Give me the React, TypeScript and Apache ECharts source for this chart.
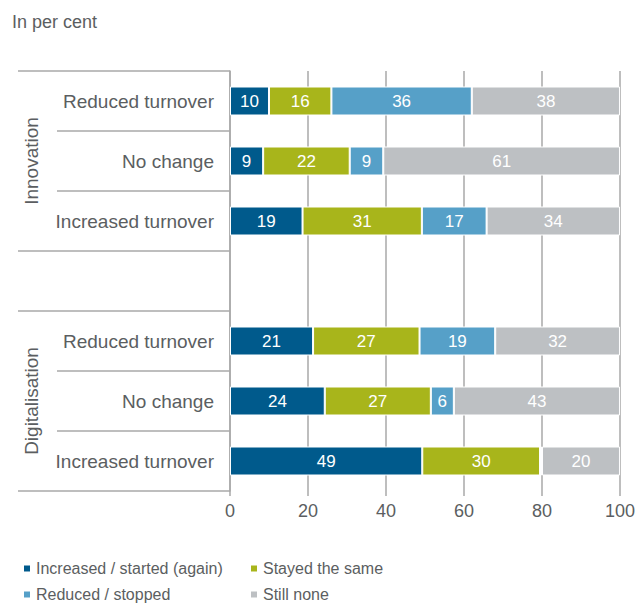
import React, { useEffect, useRef } from "react";
import * as echarts from "echarts";

const groups = ["Innovation", "Digitalisation"];
const rowLabels = ["Reduced turnover", "No change", "Increased turnover"];
const seriesNames = [
  "Increased / started (again)",
  "Stayed the same",
  "Reduced / stopped",
  "Still none",
];
// rows per group: Reduced turnover, No change, Increased turnover (Innovation then Digitalisation)
const increasedStarted = [10, 8.5, 18.6, 21.3, 24.3, 49.3];
const stayedSame = [16, 22.2, 30.6, 27.3, 27.2, 30.2];
const reducedStopped = [36, 8.6, 16.6, 19.4, 5.9, 0.5];
const stillNone = [38, 60.7, 34.2, 32.0, 42.6, 20.0];
const xTicks = { min: 0, max: 100, interval: 20 };

const colors = ["#005a8c", "#a8b51b", "#56a0c8", "#bdc0c3"];
const textColor = "#5b5e61";
const lineColor = "#a8a8a8";
const fontFamily = '"Liberation Sans", Arial, sans-serif';

const SPACER = "__spacer__";

function buildCategories(): string[] {
  const cats: string[] = [];
  groups.forEach((g, gi) => {
    if (gi > 0) cats.push(SPACER);
    rowLabels.forEach((r) => cats.push(g + "|" + r));
  });
  return cats;
}

function withSpacer(vals: number[]): (number | null)[] {
  const out: (number | null)[] = [];
  groups.forEach((_, gi) => {
    if (gi > 0) out.push(null);
    for (let i = 0; i < rowLabels.length; i++) out.push(vals[gi * rowLabels.length + i]);
  });
  return out;
}

export default function App() {
  const ref = useRef<HTMLDivElement>(null);

  useEffect(() => {
    if (!ref.current) return;
    const chart = echarts.init(ref.current, undefined, { renderer: "svg" });
    const categories = buildCategories();
    const allSeries = [increasedStarted, stayedSame, reducedStopped, stillNone];

    const legendCommon = {
      orient: "vertical",
      top: 560,
      height: 43,
      padding: 0,
      itemWidth: 8,
      itemHeight: 8,
      itemGap: 9,
      icon: "rect",
      textStyle: { fontSize: 16, lineHeight: 17, color: textColor, fontFamily },
    };

    const option: any = {
      animation: false,
      textStyle: { fontFamily },
      title: {
        text: "In per cent",
        left: 12,
        top: 13,
        padding: 0,
        textStyle: { fontSize: 18, fontWeight: "normal", color: textColor, fontFamily },
      },
      legend: [
        { ...legendCommon, data: [seriesNames[0], seriesNames[2]], left: 22 },
        { ...legendCommon, data: [seriesNames[1], seriesNames[3]], left: 249 },
      ],
      grid: { left: 230, right: 17, top: 71, bottom: 112, containLabel: false },
      xAxis: {
        type: "value",
        min: xTicks.min,
        max: xTicks.max,
        interval: xTicks.interval,
        axisLine: { show: false },
        axisTick: { show: true, length: 5, lineStyle: { color: lineColor, width: 1.5 } },
        splitLine: { show: true, lineStyle: { color: lineColor, width: 1.5 } },
        axisLabel: { fontSize: 18, color: textColor, margin: 11, fontFamily },
      },
      yAxis: {
        type: "category",
        inverse: true,
        data: categories,
        axisLine: { show: true, lineStyle: { color: lineColor, width: 1.5 } },
        axisTick: { show: false },
        splitLine: { show: false },
        axisLabel: {
          fontSize: 19,
          color: textColor,
          margin: 16,
          fontFamily,
          formatter: (v: string) => (v === SPACER ? "" : v.split("|")[1]),
        },
      },
      series: allSeries.map((vals, i) => ({
        name: seriesNames[i],
        type: "bar",
        stack: "total",
        barWidth: 29,
        data: withSpacer(vals),
        itemStyle: { color: colors[i], borderColor: "#ffffff", borderWidth: 1 },
        label: {
          show: true,
          position: "inside",
          color: "#ffffff",
          fontSize: 17,
          fontFamily,
          formatter: (p: any) => (p.value != null && p.value >= 1 ? String(Math.round(p.value)) : ""),
        },
      })),
    };

    chart.setOption(option);

    // bracket lines and group labels, positioned from the axes
    const c0 = chart.convertToPixel({ yAxisIndex: 0 }, 0) as number;
    const c1 = chart.convertToPixel({ yAxisIndex: 0 }, 1) as number;
    const band = c1 - c0;
    const axisX = chart.convertToPixel({ xAxisIndex: 0 }, 0) as number;
    const graphics: any[] = [];
    const longIdx = new Set<number>();
    let idx = 0;
    groups.forEach((_, gi) => {
      if (gi > 0) idx += 1;
      longIdx.add(idx);
      longIdx.add(idx + rowLabels.length);
      idx += rowLabels.length;
    });
    for (let b = 0; b <= categories.length; b++) {
      const y = c0 - band / 2 + b * band;
      const isLong = longIdx.has(b);
      graphics.push({
        type: "line",
        shape: { x1: isLong ? 18 : 57, y1: y, x2: axisX, y2: y },
        style: { stroke: lineColor, lineWidth: 1.5 },
        silent: true,
      });
    }
    let start = 0;
    groups.forEach((g, gi) => {
      if (gi > 0) start += 1;
      const yTop = c0 + start * band;
      const yBot = c0 + (start + rowLabels.length - 1) * band;
      graphics.push({
        type: "text",
        x: 31,
        y: (yTop + yBot) / 2,
        rotation: Math.PI / 2,
        style: {
          text: g,
          fill: textColor,
          fontSize: 19,
          fontFamily,
          align: "center",
          verticalAlign: "middle",
        },
        silent: true,
      });
      start += rowLabels.length;
    });
    chart.setOption({ graphic: graphics });

    return () => chart.dispose();
  }, []);

  return (
    <div
      ref={ref}
      style={{ position: "fixed", left: 0, top: 0, width: 638, height: 603, background: "#fff" }}
    />
  );
}
